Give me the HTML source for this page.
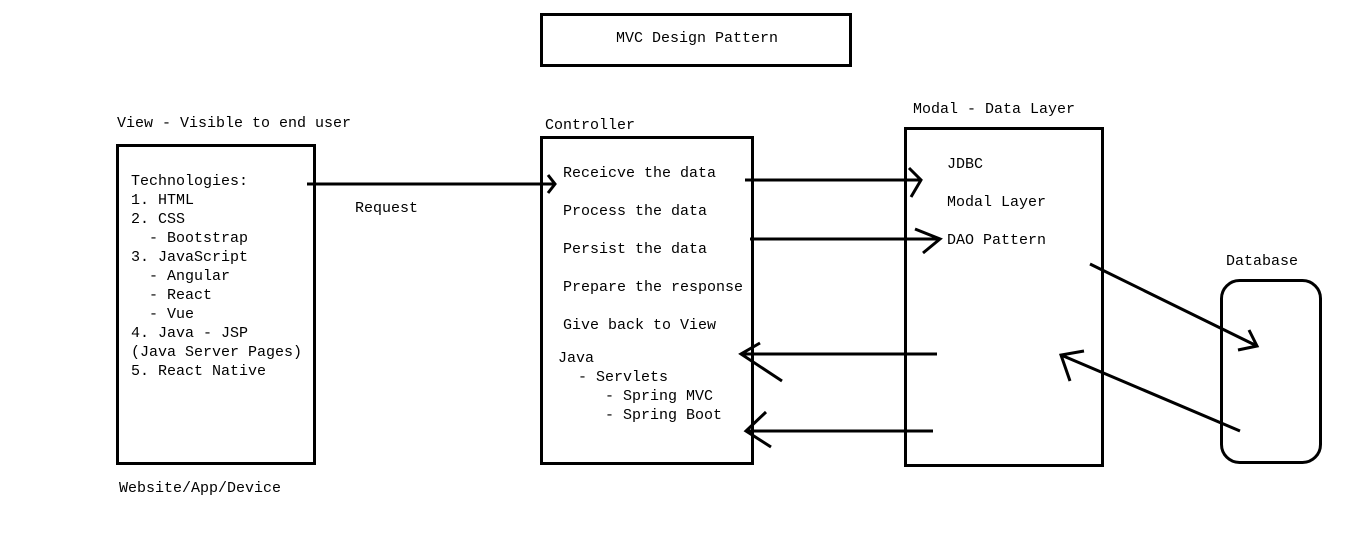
<!DOCTYPE html>
<html><head><style>
body{margin:0;background:#fff;}
svg{display:block;}
text{font-family:"Liberation Mono",monospace;font-size:15px;fill:#000;white-space:pre;}
</style></head><body>
<svg width="1357" height="552" viewBox="0 0 1357 552" xmlns="http://www.w3.org/2000/svg" xml:space="preserve">
<g fill="none" stroke="#000" stroke-width="3">
<rect x="541.5" y="14.5" width="309" height="51"/>
<rect x="117.5" y="145.5" width="197" height="318"/>
<rect x="541.5" y="137.5" width="211" height="326"/>
<rect x="905.5" y="128.5" width="197" height="337"/>
<rect x="1221.5" y="280.5" width="99" height="182" rx="18"/>
<path d="M307 184 H555 M548 175 L555 184 L548 193"/>
<path d="M745 180 H921 M909 168 L921 180 L911 197"/>
<path d="M750 239 H940 M915 229 L940 239 L923 253"/>
<path d="M937 354 H741 M760 343 L741 354 L782 381"/>
<path d="M933 431 H746 M766 412 L746 431 L771 447"/>
<path d="M1090 264 L1257 346 M1249 330 L1257 346 L1238 350"/>
<path d="M1240 431 L1061 355 M1084 351 L1061 355 L1070 381"/>
</g>
<text x="616" y="42">MVC Design Pattern</text>
<text x="117" y="127">View - Visible to end user</text>
<text x="545" y="129">Controller</text>
<text x="913" y="113">Modal - Data Layer</text>
<text x="1226" y="265">Database</text>
<text x="119" y="492">Website/App/Device</text>
<text x="355" y="212">Request</text>
<text x="131" y="185">Technologies:</text>
<text x="131" y="204">1. HTML</text>
<text x="131" y="223">2. CSS</text>
<text x="131" y="242">  - Bootstrap</text>
<text x="131" y="261">3. JavaScript</text>
<text x="131" y="280">  - Angular</text>
<text x="131" y="299">  - React</text>
<text x="131" y="318">  - Vue</text>
<text x="131" y="337">4. Java - JSP</text>
<text x="131" y="356">(Java Server Pages)</text>
<text x="131" y="375">5. React Native</text>
<text x="563" y="177">Receicve the data</text>
<text x="563" y="215">Process the data</text>
<text x="563" y="253">Persist the data</text>
<text x="563" y="291">Prepare the response</text>
<text x="563" y="329">Give back to View</text>
<text x="558" y="362">Java</text>
<text x="578" y="381">- Servlets</text>
<text x="605" y="400">- Spring MVC</text>
<text x="605" y="419">- Spring Boot</text>
<text x="947" y="168">JDBC</text>
<text x="947" y="206">Modal Layer</text>
<text x="947" y="244">DAO Pattern</text>
</svg>
</body></html>
